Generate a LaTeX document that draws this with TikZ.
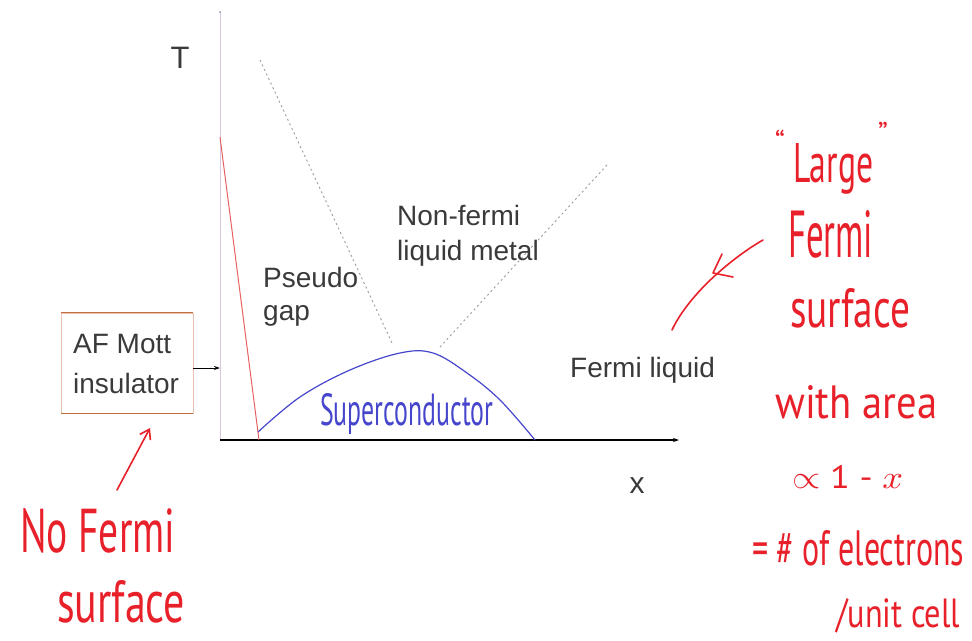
\documentclass[tikz,border=0pt]{standalone}
\usepackage{fontspec}
\setmainfont{Liberation Sans}
\newfontfamily\handfont{PT Sans}
\usetikzlibrary{arrows.meta}
\definecolor{ink}{HTML}{3A3A3A}
\definecolor{pen}{HTML}{E8202A}
\definecolor{bluepen}{HTML}{4646CC}
\definecolor{axisv}{HTML}{D9C6E3}
\definecolor{redline}{HTML}{E86060}
\definecolor{dashgray}{HTML}{9A9A9A}
\definecolor{boxedge}{HTML}{EAC0B0}
\definecolor{boxtb}{HTML}{C07040}
\newcommand{\hw}[3]{\resizebox{#1pt}{#2pt}{\handfont #3}}
\begin{document}
\begin{tikzpicture}[x=1pt,y=-1pt,
  print/.style={text=ink,font=\fontsize{28}{34}\selectfont,inner sep=0pt,anchor=base west},
  hand/.style={text=pen,inner sep=0pt,anchor=base west},
  pentrace/.style={draw=pen,line width=1.6pt,line cap=round,line join=round},
  dashline/.style={draw=dashgray,line width=0.9pt,dash pattern=on 2pt off 3pt},
  blacktip/.style={-{Stealth[length=6pt,width=4pt]}}
  ]
\useasboundingbox (0,0) rectangle (972,640);

% axes
\coordinate (ytop) at (220,12);
\coordinate (origin) at (220,440);
\coordinate (xend) at (679,440);
\draw[axisv,line width=1pt] (origin) -- (ytop);
\fill[axisv!60!black] (ytop) circle (0.9);
\draw[black,line width=1.2pt,blacktip] (origin) -- (xend);

\node[text=ink,font=\fontsize{31}{31}\selectfont,inner sep=0pt,anchor=base] (tlabel) at (180,68) {T};
\node[text=ink,font=\fontsize{30}{30}\selectfont,inner sep=0pt,anchor=base] (xlabel) at (637,493) {x};

% AF boundary
\coordinate (afTop) at (220,137);
\coordinate (afBot) at (259,440);
\draw[redline,line width=1pt] (afTop) -- (afBot);

% crossover lines
\coordinate (pgA) at (260,60);
\coordinate (pgB) at (393,345);
\coordinate (flA) at (440,347);
\coordinate (flB) at (607,165);
\draw[dashline] (pgA) -- (pgB);
\draw[dashline] (flA) -- (flB);

% superconducting dome
\draw[bluepen,line width=1.2pt] plot[smooth,tension=0.6] coordinates
  {(258,432) (300,397) (350,370) (400,353) (433,353) (467,373) (500,400) (535,440)};

% printed labels
\node[print] (pseudo1) at (263,287) {Pseudo};
\node[print] (pseudo2) at (263,320) {gap};
\node[print] (nfl1) at (397,225) {Non-fermi};
\node[print] (nfl2) at (397,260) {liquid metal};
\node[print] (fl) at (570,377) {Fermi liquid};

% AF Mott box
\node[draw=boxedge,line width=0.8pt,minimum width=132pt,minimum height=100pt,inner sep=0pt] (afbox) at (127,363) {};
\draw[boxtb,line width=1pt] (afbox.north west) -- (afbox.north east);
\draw[boxtb,line width=1pt] (afbox.south west) -- (afbox.south east);
\node[print] (af1) at (73,353) {AF Mott};
\node[print] (af2) at (73,393) {insulator};
\coordinate (afarrowstart) at (193,368);
\coordinate (afarrowend) at (220,368);
\draw[black,line width=1pt,blacktip] (afarrowstart) -- (afarrowend);

% handwritten: superconductor
\node[hand,text=bluepen] (sc) at (320,425) {\hw{173}{32}{Superconductor}};

% handwritten: no Fermi surface
\node[hand] (nofs1) at (20,552) {\hw{155}{44}{No Fermi}};
\node[hand] (nofs2) at (57,622) {\hw{128}{42}{surface}};
\coordinate (nfsTail) at (117,490);
\coordinate (nfsTip) at (150,428);
\draw[pentrace,-{Straight Barb[length=9pt,width=12pt]}] (nfsTail) -- (nfsTip);

% handwritten: large Fermi surface
\node[text=pen,inner sep=0pt,anchor=north,font=\fontsize{30}{30}\handfont] (q1) at (780,130) {“};
\node[text=pen,inner sep=0pt,anchor=north,font=\fontsize{30}{30}\handfont] (q2) at (883,122) {”};
\node[hand] (lg1) at (793,182) {\hw{80}{39}{Large}};
\node[hand] (lg2) at (788,257) {\hw{85}{47}{Fermi}};
\node[hand] (lg3) at (790,327) {\hw{120}{39}{surface}};
\node[hand] (lg4) at (775,418) {\hw{162}{33}{with area}};
\node[hand] (lg5) at (792,488) {\hw{111}{23}{$\propto$ 1 - $x$}};
\node[hand] (lg6) at (752,565) {\hw{212}{35}{= \# of electrons}};
\node[hand] (lg7) at (836,627) {\hw{124}{29}{/unit cell}};

\coordinate (lfsStart) at (763,240);
\coordinate (lfsEnd) at (672,330);
\coordinate (lfsTip) at (713,273);
\coordinate (lfsBarbA) at (733,277);
\coordinate (lfsBarbB) at (722,254);
\draw[pentrace] (lfsStart) .. controls (735,256) and (690,292) .. (lfsEnd);
\draw[pentrace] (lfsBarbA) -- (lfsTip) -- (lfsBarbB);
\end{tikzpicture}
\end{document}
